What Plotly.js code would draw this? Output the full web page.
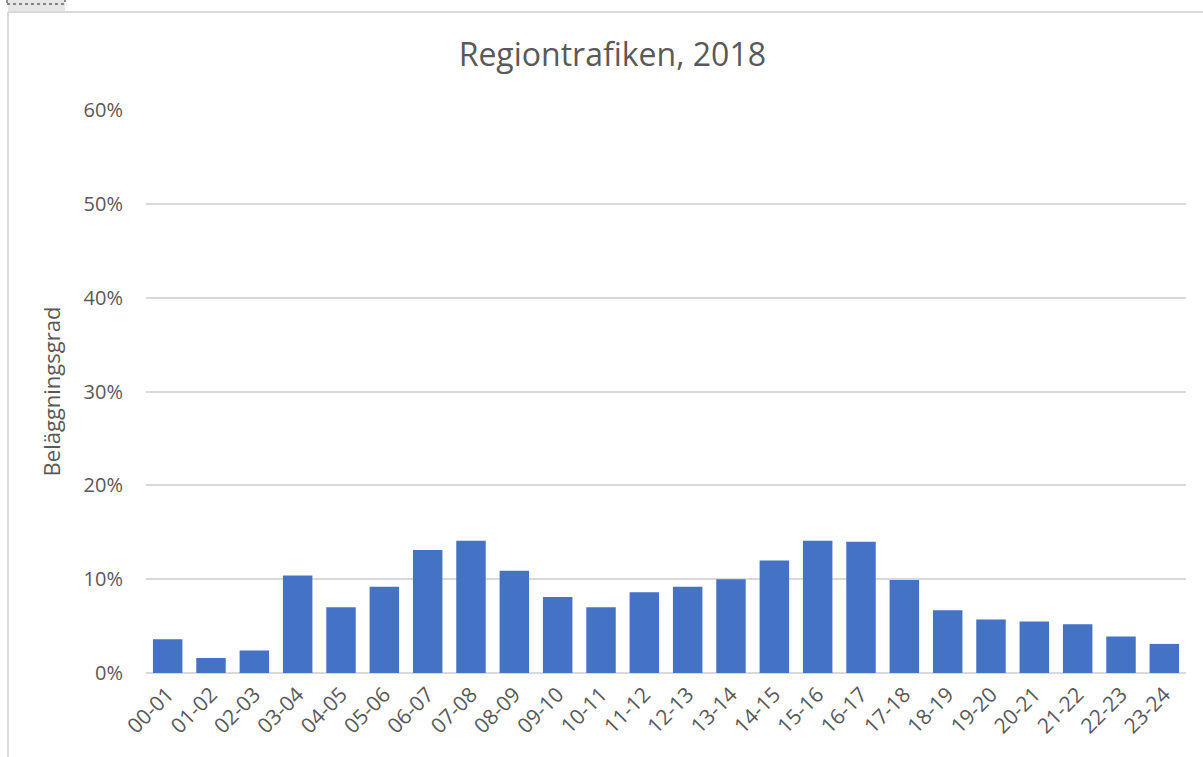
<!DOCTYPE html>
<html>
<head>
<meta charset="utf-8">
<script src="https://cdn.plot.ly/plotly-3.0.1.min.js"></script>
<style>
  html, body { margin: 0; padding: 0; background: #fff; }
  #chart { width: 1203px; height: 757px; }
</style>
</head>
<body>
<div id="chart"></div>
<script>
// timintervall och beläggningsgrad (andel)
const hours = ['00-01', '01-02', '02-03', '03-04', '04-05', '05-06', '06-07', '07-08',
               '08-09', '09-10', '10-11', '11-12', '12-13', '13-14', '14-15', '15-16',
               '16-17', '17-18', '18-19', '19-20', '20-21', '21-22', '22-23', '23-24'];
const occupancy = [0.036, 0.016, 0.024, 0.104, 0.070, 0.092, 0.131, 0.141,
                   0.109, 0.081, 0.070, 0.086, 0.092, 0.100, 0.120, 0.141,
                   0.140, 0.099, 0.067, 0.057, 0.055, 0.052, 0.039, 0.031];
const yTicks = [0, 0.1, 0.2, 0.3, 0.4, 0.5, 0.6];
const yTickText = ['0%', '10%', '20%', '30%', '40%', '50%', '60%'];

const font = 'Open Sans, Liberation Sans, sans-serif';
const grey = '#595959';

const trace = {
    type: 'bar',
    x: hours,
    y: occupancy,
    marker: { color: '#4472c4' },
    hoverinfo: 'x+y'
};

// pixel -> paper helpers for the frame around the chart
const L = 146, R = 17, T = 110, B = 84, W = 1203, H = 757;
const px = v => (v - L) / (W - L - R);
const py = v => (H - B - v) / (H - T - B);

const layout = {
    width: W,
    height: H,
    margin: { l: L, r: R, t: T, b: B },
    paper_bgcolor: '#fff',
    plot_bgcolor: '#fff',
    bargap: 0.32,
    showlegend: false,
    font: { family: font, color: grey },
    title: {
        text: 'Regiontrafiken, 2018',
        font: { family: font, size: 32, color: grey },
        xref: 'container', x: 0.509,
        yref: 'container', y: 1 - 55 / H, yanchor: 'middle'
    },
    xaxis: {
        type: 'category',
        tickangle: -45,
        tickfont: { size: 21, color: grey },
        showgrid: false,
        showline: false,
        zeroline: false,
        ticks: '',
        ticklabelstandoff: 4
    },
    yaxis: {
        range: [0, 0.6],
        tickvals: yTicks,
        ticktext: yTickText,
        tickfont: { size: 20, color: grey },
        gridcolor: '#d9d9d9',
        gridwidth: 2,
        zeroline: true,
        zerolinecolor: '#d9d9d9',
        zerolinewidth: 2,
        showline: false,
        ticks: '',
        ticklabelstandoff: 22,
        title: {
            text: 'Beläggningsgrad',
            font: { size: 22, color: grey },
            standoff: 16
        }
    },
    shapes: [
        // chart frame
        { type: 'line', xref: 'paper', yref: 'paper', x0: px(8), x1: px(1210), y0: py(12), y1: py(12),
          line: { color: '#d9d9d9', width: 2 } },
        { type: 'line', xref: 'paper', yref: 'paper', x0: px(8), x1: px(8), y0: py(12), y1: py(760),
          line: { color: '#d9d9d9', width: 2 } },
        // small grey tab top-left
        { type: 'rect', xref: 'paper', yref: 'paper', x0: px(8), x1: px(65), y0: py(11), y1: py(0),
          fillcolor: '#e6e6e6', line: { width: 0 } },
        { type: 'rect', xref: 'paper', yref: 'paper', x0: px(7), x1: px(65), y0: py(4), y1: py(-6),
          fillcolor: 'rgba(0,0,0,0)', line: { color: '#222', width: 1, dash: 'dot' } }
    ]
};

Plotly.newPlot('chart', [trace], layout, { displayModeBar: false, staticPlot: true });
</script>
</body>
</html>
